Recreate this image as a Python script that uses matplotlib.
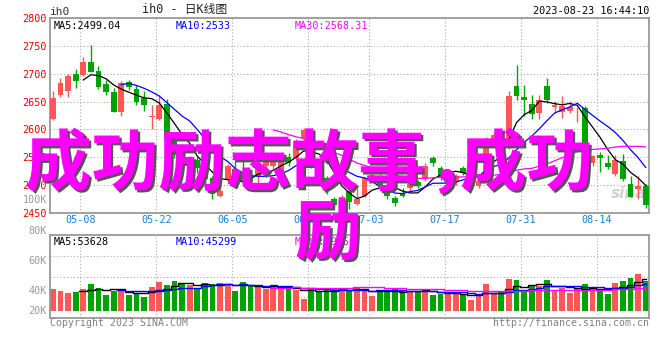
import numpy as np
import matplotlib
matplotlib.use("Agg")
import matplotlib.pyplot as plt
import matplotlib.patheffects as pe
from matplotlib.patches import Rectangle

W, H = 660, 360

# daily candles, 04-27 .. 08-22
opens = [2619, 2661.4, 2668.5, 2700, 2697, 2720.9, 2705.4, 2682.2, 2667.3, 2631,
         2684.6, 2673.3, 2656, 2622.7, 2619, 2646.5, 2583, 2553, 2543, 2545,
         2537, 2512, 2481, 2510, 2528.7, 2522.7, 2516.8, 2517, 2534.6, 2533.5,
         2525.7, 2550.7, 2549.5, 2585, 2595, 2532.9, 2512.6, 2475, 2466, 2488.8,
         2466, 2481, 2511, 2517, 2494, 2477, 2485, 2494, 2506, 2511,
         2548, 2530, 2512, 2505, 2530, 2498, 2499, 2512, 2580, 2588,
         2570.4, 2678.6, 2657.8, 2646.5, 2630, 2678.6, 2640.7, 2631, 2632.8, 2635.8,
         2638.8, 2540.6, 2553.7, 2540.6, 2519.8, 2543.6, 2501.9, 2493, 2499]
highs = [2668.5, 2692.3, 2700, 2709, 2729.8, 2751.8, 2714.4, 2689.4, 2674.5, 2686.4,
         2689.4, 2680.4, 2668.5, 2643, 2661.4, 2655.4, 2590, 2560, 2552.5, 2550,
         2546, 2517, 2496, 2538, 2543.6, 2555, 2520, 2536, 2545, 2546,
         2548, 2558.5, 2582, 2603, 2600, 2538, 2516, 2478, 2482, 2493,
         2496, 2514, 2522, 2520, 2505, 2480, 2495, 2508, 2510, 2540,
         2552, 2534, 2524, 2520, 2535, 2522, 2512, 2586, 2595, 2592,
         2668.5, 2716, 2680, 2662.6, 2662.6, 2692.3, 2650.7, 2659.6, 2650.7, 2640.6,
         2641.8, 2555, 2559.6, 2553.7, 2553.7, 2555.5, 2516.8, 2516.8, 2502]
lows = [2616.8, 2657.8, 2657.8, 2674.5, 2695.3, 2703.6, 2672.7, 2662.6, 2631, 2624,
        2671.5, 2644.7, 2632.8, 2601.3, 2616.8, 2580, 2548, 2540, 2516.8, 2522,
        2493, 2476, 2478, 2505, 2507.9, 2499, 2496, 2496, 2530, 2528,
        2520, 2534.6, 2545, 2580, 2530, 2520, 2485, 2462, 2458, 2457,
        2464, 2478, 2508, 2496, 2475, 2462, 2478, 2487, 2495, 2508,
        2535, 2510, 2508, 2500, 2518, 2496, 2494, 2508, 2575, 2565,
        2564.4, 2653.7, 2624, 2619, 2619, 2647.7, 2630, 2621, 2630, 2613,
        2546.5, 2535, 2524, 2528.7, 2516.8, 2507.9, 2478.1, 2475, 2459]
closes = [2656.6, 2683.4, 2696.5, 2686.4, 2720.9, 2703.6, 2675.7, 2667.9, 2631, 2683.4,
          2675.7, 2648.9, 2644.7, 2623.5, 2644.7, 2585, 2555, 2547, 2544, 2530,
          2511, 2484, 2490, 2534, 2518.6, 2505, 2508, 2534.6, 2541.8, 2543.6,
          2544.8, 2540.6, 2579.3, 2599, 2535, 2525.7, 2490, 2465, 2479, 2470.4,
          2475, 2512, 2518.6, 2499, 2481, 2468, 2480, 2502, 2499, 2535,
          2539, 2514, 2520, 2516.8, 2522, 2508, 2508, 2582, 2590, 2570,
          2659.6, 2659.6, 2652.5, 2628, 2653.7, 2652.5, 2644.6, 2641.8, 2640.7, 2636.5,
          2549.5, 2552.5, 2549.5, 2531.7, 2544.8, 2510.8, 2478.1, 2499, 2465]
volumes = [37.2, 34.4, 31.0, 32.7, 37.2, 45.6, 38.3, 27.0, 34.4, 37.2,
           27.0, 28.7, 24.2, 41.1, 49.6, 43.9, 50.7, 47.9, 43.9, 37.2,
           47.9, 45.6, 47.9, 45.6, 34.4, 49.6, 42.3, 41.1, 37.2, 41.1,
           38.3, 41.1, 35.5, 20.3, 38.3, 32.7, 38.3, 38.3, 35.5, 35.5,
           38.3, 37.2, 25.4, 32.7, 32.7, 37.2, 35.5, 34.4, 32.7, 37.2,
           27.0, 28.7, 29.9, 28.7, 28.7, 18.6, 27.0, 45.6, 28.7, 34.4,
           54.1, 52.4, 35.5, 42.3, 42.3, 52.4, 35.5, 38.3, 31.0, 36.6,
           45.6, 40.0, 34.4, 28.7, 47.9, 50.7, 56.3, 62.5, 50.7]

date_ticks = [4, 14, 24, 34, 42, 52, 62, 72]
date_labels = ["05-08", "05-22", "06-05", "06-19", "07-03", "07-17", "07-31", "08-14"]
price_ticks = [2450, 2500, 2550, 2600, 2650, 2700, 2750, 2800]
vol_labels = ["100K", "80K", "60K", "40K", "20K"]

UP, DOWN = "#ff5656", "#00a400"
MONO = "DejaVu Sans Mono"


def ma(vals, n):
    arr = np.asarray(vals, float)
    out = np.full(len(arr), np.nan)
    for i in range(n - 1, len(arr)):
        out[i] = arr[i - n + 1:i + 1].mean()
    return out


def fx(x):
    return x / W


def fy(y):
    return 1 - y / H


n = len(closes)
x = np.arange(n)
colors = [UP if c >= o else DOWN for o, c in zip(opens, closes)]
grid_x = [t - 0.4 for t in date_ticks]

fig = plt.figure(figsize=(W / 100, H / 100), dpi=100)
ax = fig.add_axes([fx(50), fy(213), 599 / W, 195 / H])
axv = fig.add_axes([fx(50), fy(318.3), 599 / W, 83.3 / H])

for a in (ax, axv):
    a.set_xlim(-0.38, 78.43)
    for s in a.spines.values():
        s.set_color("#999999")
        s.set_linewidth(1.3)
    for gx in grid_x:
        a.axvline(gx, color="#aaaaaa", ls=(0, (1, 2)), lw=0.8, zorder=0)

# price panel
ax.set_ylim(2450, 2800)
for p in price_ticks[1:-1]:
    ax.axhline(p, color="#aaaaaa", ls=(0, (1, 2)), lw=0.8, zorder=0)
for i in range(n):
    o, h, l, c = opens[i], highs[i], lows[i], closes[i]
    ax.vlines(i, l, h, color=colors[i], lw=1, zorder=2)
    ax.add_patch(Rectangle((i - 0.375, min(o, c)), 0.75, max(abs(c - o), 1.5),
                           facecolor=colors[i], edgecolor="none", zorder=3))
ax.plot(x, ma(closes, 5), color="black", lw=0.9, zorder=4)
ax.plot(x, ma(closes, 10), color="#0000ff", lw=0.9, zorder=4)
ax.plot(x, ma(closes, 30), color="#ff00ff", lw=0.9, zorder=4)
ax.set_yticks(price_ticks)
ax.set_yticklabels([str(p) for p in price_ticks], family=MONO)
ax.tick_params(axis="y", length=0, pad=2.5, labelsize=7.3, labelcolor="#ee0000")
ax.set_xticks(grid_x)
ax.set_xticklabels(date_labels, family=MONO)
ax.tick_params(axis="x", length=0, pad=1.5, labelsize=7.3, labelcolor="#1a7fd4")

ax.text(0.006, 0.985, "MA5:2499.04", transform=ax.transAxes, family=MONO,
        fontsize=7.3, color="black", va="top")
ax.text(0.209, 0.985, "MA10:2533", transform=ax.transAxes, family=MONO,
        fontsize=7.3, color="#0000ff", va="top")
ax.text(0.409, 0.985, "MA30:2568.31", transform=ax.transAxes, family=MONO,
        fontsize=7.3, color="#ff00ff", va="top")
ax.text(0.995, 0.06, "sina", transform=ax.transAxes, fontsize=11,
        style="italic", weight="bold", color="#d0d0d0", ha="right", va="bottom",
        zorder=1)

# volume panel
axv.set_ylim(-12.3, 128.4)
axv.bar(x, volumes, width=0.75, color=colors, zorder=2)
axv.plot(x, ma(volumes, 5), color="black", lw=1, drawstyle="steps-mid", zorder=3)
axv.plot(x, ma(volumes, 10), color="#0000ff", lw=1, drawstyle="steps-mid", zorder=3)
axv.plot(x, ma(volumes, 30), color="#ff00ff", lw=1, drawstyle="steps-mid", zorder=3)
for gv in (23.2, 58.3, 93.4):
    axv.axhline(gv, color="#aaaaaa", ls=(0, (1, 2)), lw=0.8, zorder=0)
axv.set_xticks([])
axv.set_yticks([])
vol_ma30 = ma(volumes, 30)[-1] * 1000
axv.text(0.006, 0.975, "MA5:53628", transform=axv.transAxes, family=MONO,
         fontsize=7.3, color="black", va="top")
axv.text(0.209, 0.975, "MA10:45299", transform=axv.transAxes, family=MONO,
         fontsize=7.3, color="#0000ff", va="top")
axv.text(0.409, 0.975, "MA30:%d" % vol_ma30, transform=axv.transAxes, family=MONO,
         fontsize=7.3, color="#ff00ff", va="top")

for lab, yy in zip(vol_labels, [200, 231, 261, 291, 311]):
    fig.text(fx(47), fy(yy), lab, family=MONO, fontsize=7.3, color="#999999",
             ha="right", va="center")

# header / footer
fig.text(fx(50), fy(12), "ih0", family=MONO, fontsize=8, color="#333333",
         va="center")
fig.text(fx(185), fy(10), "ih0 - 日K线图", family=[MONO, "Noto Sans CJK SC"],
         fontsize=8.5, color="#222222", ha="center", va="center")
fig.text(fx(649), fy(11.5), "2023-08-23 16:44:10", family=MONO, fontsize=7.3,
         color="black", ha="right", va="center")
fig.text(fx(50), fy(323), "Copyright 2023 SINA.COM", family=MONO, fontsize=7.1,
         color="#808080", va="center")
fig.text(fx(649), fy(323), "http://finance.sina.com.cn", family=MONO, fontsize=7.1,
         color="#808080", ha="right", va="center")

# overlaid headline
shadow = [pe.SimplePatchShadow(offset=(1.6, -1.6), shadow_rgbFace="#555555", alpha=1),
          pe.Normal()]
big = dict(fontsize=48, family=["Noto Sans CJK SC", "DejaVu Sans"], weight="bold",
           color="#ff00ff", va="baseline", ha="left", path_effects=shadow)
fig.text(fx(25), fy(185), "成功励志故事", **big)
fig.text(fx(428), fy(185), "，", **big)
fig.text(fx(460), fy(185), "成功", **big)
fig.text(fx(295), fy(254), "励", **big)

fig.savefig("out.png", dpi=100)
